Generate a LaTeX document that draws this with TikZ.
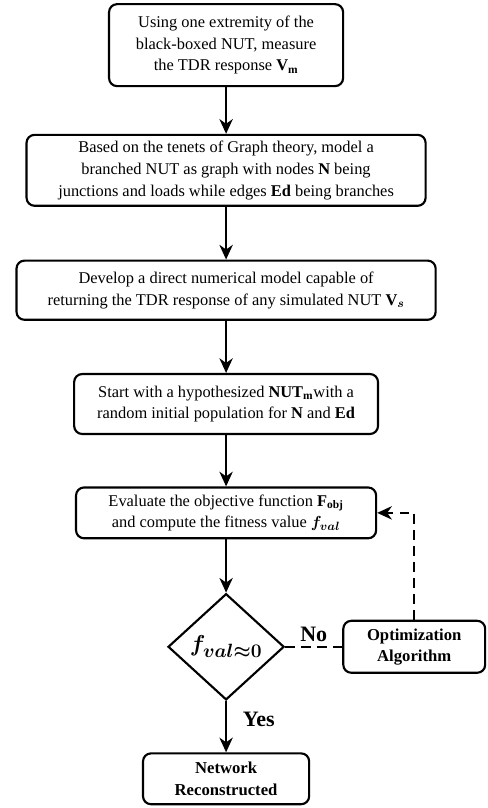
\documentclass[tikz,border=0pt]{standalone}
\usepackage{amsmath}
\usepackage{bm}
\usepackage{fontspec}
\setmainfont{Liberation Serif}
\usetikzlibrary{shapes.geometric}
\usetikzlibrary{positioning}
\usetikzlibrary{arrows.meta}
\tikzstyle{process} = [rectangle, rounded corners=6pt, minimum width=3cm, minimum height=1cm, text centered, align=center, draw=black, line width=1.6pt]
\tikzstyle{decision} = [diamond, aspect=1.1, minimum width=3.06cm, minimum height=2.8cm, inner sep=0pt, text centered, draw=black, line width=1.6pt]
\tikzstyle{arrow} = [line width=1.6pt,->,>={Stealth[length=11pt,width=10pt,inset=3.5pt]}]
\tikzstyle{dashline} = [line width=1.6pt,dash pattern=on 7pt off 5pt]
\tikzstyle{dasharrow} = [line width=1.6pt,dash pattern=on 7pt off 5pt,->,>={Stealth[length=11pt,width=10pt,inset=3.5pt]}]

\begin{document}
\begin{tikzpicture}[node distance=3cm, font=\fontsize{12.3}{16.3}\selectfont]
        \useasboundingbox (-5.96,1.19) rectangle (6.88,-20.11);
        \node (measure) [process, minimum width=6.17cm, minimum height=2.16cm] {Using one extremity of the\\ black-boxed NUT, measure\\ the TDR response $\mathbf{V}_{\mathbf{m}}$};
        \node (graph) [process, below of=measure, yshift=-0.3cm, minimum width=10.52cm, minimum height=1.87cm] {Based on the tenets of Graph theory, model a\\ branched NUT as graph with nodes \textbf{N} being\\ junctions and loads while edges \textbf{Ed} being branches};
        \node (model) [process, below of=graph, yshift=-0.16cm, minimum width=11.05cm, minimum height=1.56cm] {Develop a direct numerical model capable of\\ returning the TDR response of any simulated NUT $\mathbf{V}_{\bm{s}}$};
        \node (start) [process, below of=model, minimum width=8.01cm, minimum height=1.58cm] {Start with a hypothesized $\mathbf{NUT}_{\mathbf{m}}$with a\\ random initial population for \textbf{N} and \textbf{Ed}};
        \node (evaluate) [process, below of=start, yshift=0.13cm, minimum width=7.91cm, minimum height=1.34cm] {Evaluate the objective function $\mathbf{F}_{\mathbf{obj}}$\\ and compute the fitness value $\bm{f_{val}}$};
        \node (check) [decision, below of=evaluate, yshift=-0.53cm, font=\fontsize{19}{21}\selectfont] {$\bm{f_{val\approx 0}}$};
        \node (optim) [process, right of=check, xshift=1.96cm, minimum width=3.74cm, minimum height=1.37cm, font=\fontsize{12.5}{16}\selectfont\bfseries] {Optimization\\ Algorithm};
        \node (done) [process, below of=check, yshift=-0.48cm, minimum width=4.38cm, minimum height=1.34cm, font=\fontsize{12.5}{16}\selectfont\bfseries] {Network\\ Reconstructed};

        \draw [arrow] (measure) -- (graph);
        \draw [arrow] (graph) -- (model);
        \draw [arrow] (model) -- (start);
        \draw [arrow] (start) -- (evaluate);
        \draw [arrow] (evaluate) -- (check);
        \draw [dashline] (check) -- node[anchor=south, font=\fontsize{16.5}{18}\selectfont\bfseries] {No} (optim);
        \draw [dasharrow] (optim.north) |- (evaluate.east);
        \draw [arrow] (check) -- node[anchor=west, xshift=0.3cm, yshift=0.2cm, font=\fontsize{16.5}{18}\selectfont\bfseries] {Yes} (done);
    \end{tikzpicture}
\end{document}
